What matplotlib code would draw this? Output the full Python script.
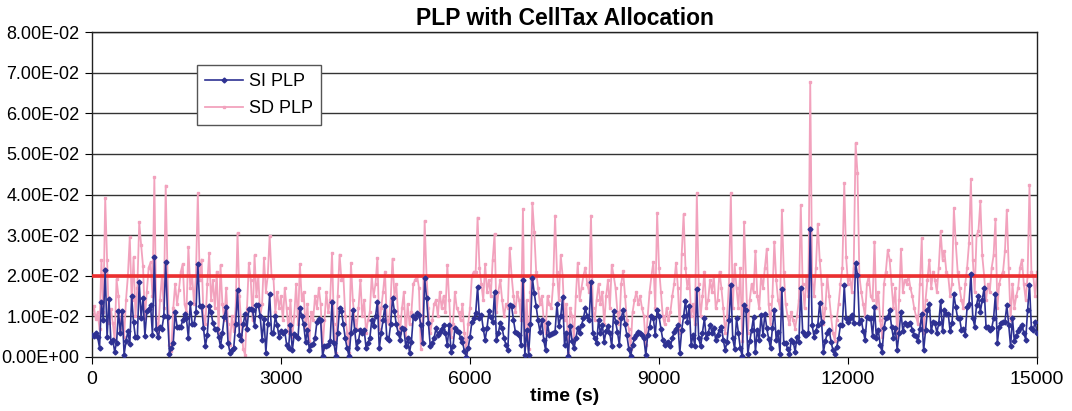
import numpy as np
import matplotlib
matplotlib.use("Agg")
import matplotlib.pyplot as plt
from matplotlib.ticker import FuncFormatter

plt.rcParams['font.family'] = ['Liberation Sans', 'DejaVu Sans']

# Sampling: one value every 30 s from 0 to 15000 s
step_s = 30
scale = 1e-3  # values below are written in units of 1e-3

# SI PLP, 20 samples per row (600 s per row), plus the final sample at 15000 s
si_rows = [
    [5.3, 5.2, 5.8, 4.9, 2.3, 13.5, 9.0, 21.4, 4.8, 14.3, 3.6, 4.3, 1.3, 3.5, 11.2, 6.0, 11.2, 0.6, 3.9, 6.3],
    [3.2, 15.0, 8.5, 4.8, 4.8, 18.4, 9.7, 14.5, 5.2, 11.2, 11.8, 12.7, 5.5, 24.5, 6.8, 4.8, 7.3, 7.0, 10.0, 23.4],
    [9.9, 0.8, 2.2, 3.5, 11.1, 7.5, 7.5, 7.5, 9.0, 10.5, 9.5, 4.6, 13.2, 8.2, 8.2, 11.0, 23.0, 12.6, 12.6, 7.2],
    [2.6, 5.5, 12.6, 11.0, 8.3, 7.0, 7.0, 5.0, 2.6, 6.0, 9.9, 12.3, 3.5, 1.1, 1.8, 2.3, 8.0, 16.5, 5.4, 4.3],
    [8.0, 10.6, 7.0, 11.8, 11.8, 11.5, 7.6, 12.8, 12.8, 10.0, 4.2, 9.4, 1.1, 8.0, 15.4, 5.8, 5.8, 10.0, 7.9, 4.8],
    [6.3, 5.9, 6.3, 3.0, 2.3, 7.9, 1.7, 5.6, 5.2, 4.6, 12.0, 10.0, 8.0, 3.8, 6.7, 1.7, 3.0, 3.2, 4.6, 8.7],
    [9.4, 9.0, 0.2, 2.6, 2.8, 3.0, 4.0, 13.6, 3.4, 0.3, 6.0, 12.0, 11.2, 8.0, 4.6, 2.1, 0.2, 6.0, 11.5, 6.6],
    [2.1, 4.0, 6.7, 5.8, 6.7, 2.3, 3.5, 4.6, 9.1, 7.6, 10.0, 13.6, 2.1, 6.0, 9.1, 12.6, 4.6, 4.2, 8.0, 14.6],
    [11.2, 8.0, 6.0, 4.2, 7.1, 7.0, 2.6, 4.6, 1.1, 3.8, 10.0, 9.7, 10.8, 10.4, 7.9, 3.4, 19.4, 14.6, 8.3, 2.6],
    [3.5, 4.6, 7.1, 5.4, 6.2, 7.0, 7.9, 5.8, 3.0, 7.9, 1.3, 2.6, 7.1, 6.5, 6.2, 4.6, 3.8, 1.5, 0.0, 2.1],
    [5.0, 8.7, 9.5, 10.8, 17.3, 9.5, 10.4, 7.0, 4.2, 7.1, 11.2, 9.8, 8.7, 15.9, 4.2, 6.0, 8.3, 7.1, 4.6, 3.0],
    [1.7, 12.9, 12.5, 9.1, 6.2, 6.0, 5.4, 3.0, 19.0, 0.5, 6.7, 0.6, 8.0, 19.4, 15.7, 12.5, 9.0, 6.2, 9.1, 4.2],
    [1.7, 8.3, 5.4, 5.6, 6.0, 6.2, 13.0, 7.6, 10.0, 14.7, 3.0, 5.8, 0.2, 7.6, 4.0, 2.1, 4.6, 7.1, 5.8, 7.9],
    [9.5, 12.0, 10.0, 9.0, 18.4, 5.8, 4.6, 3.4, 9.1, 5.8, 7.9, 3.8, 6.5, 7.6, 5.8, 2.6, 11.2, 8.7, 6.2, 3.0],
    [9.5, 11.6, 8.0, 5.4, 2.0, 0.2, 3.0, 4.6, 5.5, 6.2, 5.8, 5.4, 4.6, 0.4, 5.4, 7.5, 10.0, 9.5, 5.4, 11.6],
    [10.0, 7.0, 4.2, 3.0, 3.5, 3.8, 2.6, 4.6, 6.2, 7.0, 7.9, 1.1, 6.7, 10.0, 13.9, 8.7, 12.5, 3.0, 5.4, 2.6],
    [16.7, 4.6, 2.6, 6.0, 9.5, 4.6, 5.8, 7.9, 6.0, 7.1, 4.2, 5.5, 6.7, 7.5, 4.2, 1.7, 3.8, 9.0, 17.6, 4.6],
    [2.0, 9.5, 6.0, 2.1, 0.2, 12.8, 11.6, 0.8, 4.0, 6.7, 9.9, 1.3, 6.7, 4.2, 10.3, 5.4, 10.7, 7.1, 4.5, 2.1],
    [7.1, 11.6, 4.2, 6.2, 0.8, 16.7, 3.4, 3.4, 2.0, 0.8, 4.2, 3.8, 1.3, 5.0, 3.8, 16.9, 6.2, 5.4, 5.4, 5.8],
    [31.4, 7.9, 5.0, 6.5, 7.9, 13.3, 8.7, 1.3, 4.0, 5.8, 6.7, 3.8, 1.7, 0.8, 2.5, 4.6, 7.9, 7.9, 17.6, 9.5],
    [8.7, 9.5, 10.3, 8.3, 23.1, 20.2, 8.3, 9.1, 6.5, 4.2, 9.9, 9.5, 9.5, 5.1, 12.2, 4.7, 6.7, 3.0, 1.2, 7.1],
    [9.5, 9.9, 11.5, 7.5, 4.7, 7.1, 1.8, 6.0, 11.1, 6.3, 8.3, 7.9, 8.0, 8.3, 6.7, 5.5, 5.1, 3.9, 7.0, 10.7],
    [1.6, 6.7, 11.5, 13.1, 6.3, 8.7, 8.3, 6.0, 8.3, 13.8, 6.3, 11.5, 10.7, 10.7, 6.3, 8.3, 15.4, 12.3, 9.5, 9.5],
    [6.7, 6.8, 5.5, 12.3, 13.1, 20.5, 9.7, 7.5, 12.9, 15.1, 11.1, 14.0, 17.0, 7.5, 7.3, 6.7, 7.1, 9.5, 15.6, 3.5],
    [7.5, 8.3, 8.5, 8.7, 12.7, 7.9, 2.7, 9.5, 3.9, 5.1, 6.5, 7.1, 7.9, 5.9, 4.3, 11.5, 17.8, 7.1, 6.7, 8.7],
]
si_last = 5.9

# SD PLP, same layout
sd_rows = [
    [10.5, 12.5, 9.3, 11.0, 6.8, 23.9, 11.0, 39.2, 23.9, 8.4, 11.8, 8.4, 4.3, 19.1, 15.0, 7.0, 10.8, 5.0, 14.0, 20.0],
    [29.6, 14.0, 24.5, 10.0, 17.0, 33.2, 27.6, 22.4, 9.5, 16.0, 22.0, 23.3, 15.0, 44.2, 9.5, 6.0, 14.0, 20.0, 12.0, 42.2],
    [20.0, 3.0, 1.5, 12.0, 18.0, 13.0, 16.5, 21.0, 22.9, 13.0, 11.0, 27.0, 17.0, 20.0, 13.0, 20.0, 40.3, 19.0, 24.0, 10.0],
    [8.0, 18.0, 25.6, 14.0, 19.0, 12.0, 21.0, 6.0, 22.6, 13.0, 9.0, 17.0, 8.0, 3.0, 10.0, 6.5, 12.0, 30.5, 15.0, 8.0],
    [2.0, 0.5, 12.0, 23.1, 19.0, 9.0, 25.0, 15.0, 20.0, 10.0, 13.0, 24.4, 16.0, 20.0, 29.9, 20.0, 19.5, 11.0, 16.0, 12.0],
    [15.0, 9.0, 17.0, 12.0, 6.0, 14.0, 5.0, 10.0, 18.0, 8.0, 22.9, 14.0, 16.0, 7.0, 13.0, 4.0, 11.0, 9.0, 15.0, 12.0],
    [17.0, 13.0, 2.0, 9.0, 16.0, 11.0, 14.0, 25.6, 8.0, 1.0, 15.0, 25.2, 19.0, 20.0, 10.0, 6.0, 1.0, 23.1, 14.0, 9.0],
    [7.0, 12.0, 19.0, 10.0, 14.0, 6.0, 9.0, 11.0, 20.0, 15.0, 18.0, 24.4, 7.0, 12.0, 16.0, 21.0, 9.0, 8.0, 14.0, 24.2],
    [15.0, 18.0, 10.0, 6.0, 12.0, 16.0, 5.0, 13.0, 8.0, 11.0, 18.0, 19.0, 20.0, 17.0, 2.0, 10.0, 33.5, 20.0, 12.0, 6.0],
    [9.0, 13.0, 14.0, 10.0, 16.0, 12.0, 15.0, 11.0, 22.7, 14.0, 5.0, 8.0, 16.0, 12.0, 11.0, 9.0, 13.0, 6.0, 1.0, 8.0],
    [12.0, 20.0, 21.0, 21.0, 34.3, 22.0, 18.0, 14.0, 22.9, 16.0, 19.0, 15.0, 23.9, 30.3, 11.0, 16.0, 19.0, 14.0, 10.0, 13.0],
    [12.0, 26.8, 20.0, 15.0, 11.0, 16.0, 14.0, 9.0, 36.4, 3.0, 14.0, 2.0, 16.0, 37.9, 30.7, 21.0, 17.0, 13.0, 15.0, 9.0],
    [6.0, 15.0, 13.0, 12.0, 18.0, 34.8, 21.0, 14.0, 25.0, 20.0, 9.0, 13.0, 1.0, 12.0, 10.0, 4.0, 15.0, 23.2, 14.0, 17.0],
    [20.0, 22.0, 18.0, 16.0, 34.8, 12.0, 9.0, 14.0, 18.0, 13.0, 16.0, 8.0, 15.0, 19.0, 12.0, 22.7, 20.0, 17.0, 11.0, 8.0],
    [18.0, 21.2, 15.0, 9.0, 7.0, 2.0, 11.0, 14.0, 16.0, 13.0, 15.0, 12.0, 10.0, 3.0, 10.0, 16.0, 20.0, 23.4, 12.0, 35.5],
    [22.0, 16.0, 10.0, 8.0, 12.0, 9.0, 11.0, 15.0, 18.0, 23.2, 17.0, 6.0, 25.3, 35.1, 22.0, 17.0, 20.0, 10.0, 13.0, 8.0],
    [40.3, 18.0, 10.0, 15.0, 21.0, 12.0, 14.0, 19.0, 16.0, 20.0, 12.0, 14.0, 21.0, 17.0, 12.0, 6.0, 10.0, 18.0, 40.3, 12.0],
    [22.8, 17.0, 12.0, 21.8, 4.0, 33.3, 20.0, 6.0, 14.0, 18.0, 16.0, 26.1, 15.0, 12.0, 20.0, 17.0, 22.0, 26.6, 13.0, 8.0],
    [15.0, 28.4, 19.0, 14.0, 12.0, 36.2, 21.0, 13.0, 10.0, 8.0, 11.0, 9.0, 7.0, 10.0, 14.0, 37.4, 18.0, 12.0, 20.0, 15.0],
    [67.7, 20.0, 15.0, 22.0, 32.8, 24.0, 18.0, 8.0, 12.0, 20.0, 15.0, 10.0, 6.0, 4.0, 9.0, 13.0, 18.0, 22.0, 42.8, 24.5],
    [18.0, 20.0, 16.0, 22.0, 52.6, 45.2, 20.0, 16.0, 13.0, 10.0, 18.0, 20.0, 15.0, 14.0, 28.4, 12.0, 16.0, 9.0, 5.0, 18.0],
    [21.0, 26.3, 24.0, 18.0, 12.0, 17.0, 5.0, 14.0, 26.5, 16.0, 19.0, 18.0, 20.0, 17.0, 15.0, 12.0, 10.0, 8.0, 18.0, 29.3],
    [6.0, 14.0, 19.0, 24.0, 17.0, 21.0, 19.0, 16.0, 22.0, 30.9, 24.0, 26.0, 21.0, 20.0, 15.0, 18.0, 36.6, 28.0, 21.0, 17.0],
    [14.0, 12.0, 18.0, 22.0, 28.0, 43.8, 24.0, 16.0, 30.0, 31.0, 38.3, 25.0, 20.0, 14.0, 18.0, 16.0, 22.0, 25.0, 33.9, 12.0],
    [18.0, 20.0, 21.0, 26.0, 36.2, 22.0, 9.0, 18.0, 12.0, 15.0, 17.0, 22.0, 24.0, 18.0, 14.0, 20.0, 42.4, 21.0, 20.0, 15.0],
]
sd_last = 21.0

threshold = 0.02
x_ticks = [0, 3000, 6000, 9000, 12000, 15000]
y_ticks = [0.0, 0.01, 0.02, 0.03, 0.04, 0.05, 0.06, 0.07, 0.08]

si_plp = np.array([v for row in si_rows for v in row] + [si_last]) * scale
sd_plp = np.array([v for row in sd_rows for v in row] + [sd_last]) * scale
time_s = np.arange(len(si_plp)) * step_s

fig = plt.figure(figsize=(10.72, 4.11), dpi=100)
ax = fig.add_axes([0.0858, 0.1314, 0.8816, 0.7907])

for yv in y_ticks[1:]:
    ax.axhline(yv, color='#333333', lw=1.0, zorder=1)

ax.plot(time_s, sd_plp, color='#f2a2bd', lw=1.3, marker='s', ms=2.0,
        mec='#f2a2bd', mfc='#f2a2bd', label='SD PLP', zorder=2)
ax.plot([time_s[0], time_s[-1]], [threshold, threshold], color='#ec2f2f',
        lw=2.6, zorder=3, solid_capstyle='butt')
ax.plot(time_s, si_plp, color='#2e3192', lw=1.2, marker='D', ms=2.5,
        mec='#2e3192', mfc='#2e3192', label='SI PLP', zorder=4)

ax.set_xlim(0, 15000)
ax.set_ylim(0, 0.08)
ax.set_xticks(x_ticks)
ax.set_yticks(y_ticks)
ax.yaxis.set_major_formatter(FuncFormatter(lambda v, p: f"{v:.2E}"))
ax.tick_params(axis='y', direction='out', length=5, labelsize=13, pad=4)
ax.tick_params(axis='x', direction='out', length=5, labelsize=14, pad=5)
for s in ax.spines.values():
    s.set_color('#222222')
    s.set_linewidth(1.0)

ax.set_title('PLP with CellTax Allocation', fontsize=16.5, fontweight='bold', pad=5)
ax.set_xlabel('time (s)', fontsize=14, fontweight='bold', labelpad=0)

handles, labels = ax.get_legend_handles_labels()
order = [labels.index('SI PLP'), labels.index('SD PLP')]
leg = ax.legend([handles[i] for i in order], [labels[i] for i in order],
                loc='upper left', bbox_to_anchor=(0.111, 0.898), borderaxespad=0,
                fontsize=13, frameon=True, fancybox=False, framealpha=1,
                edgecolor='#555555', handlelength=2.1, borderpad=0.45,
                labelspacing=0.55, handletextpad=0.35)
leg.get_frame().set_linewidth(1.0)

fig.savefig('out.png', dpi=100)
